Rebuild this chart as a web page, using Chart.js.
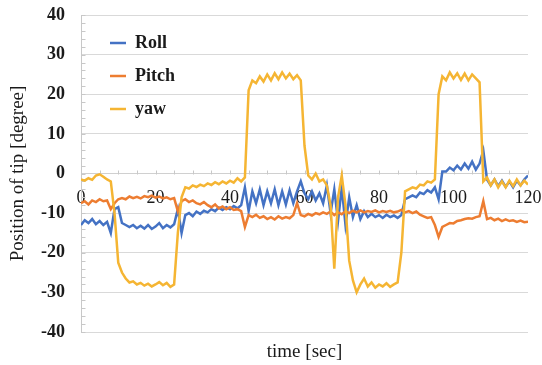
<!DOCTYPE html>
<html>
<head>
<meta charset="utf-8">
<script src="https://cdn.jsdelivr.net/npm/chart.js@4.4.1/dist/chart.umd.min.js"></script>
<style>
  html, body { margin: 0; padding: 0; background: #fff; }
  #wrap { width: 542px; height: 365px; }
</style>
</head>
<body>
<div id="wrap"><canvas id="tipChart" width="542" height="365"></canvas></div>
<script>
// time stamps [sec]
const times = [
    0, 1, 2, 3, 4, 5, 6, 7, 8, 9, 10, 11, 12, 13, 14, 15, 16, 17, 18, 19,
    20, 21, 22, 23, 24, 25, 26, 27, 28, 29, 30, 31, 32, 33, 34, 35, 36, 37, 38, 39,
    40, 41, 42, 43, 44, 45, 46, 47, 48, 49, 50, 51, 52, 53, 54, 55, 56, 57, 58, 59,
    60, 61, 62, 63, 64, 65, 66, 67, 68, 69, 70, 71, 72, 73, 74, 75, 76, 77, 78, 79,
    80, 81, 82, 83, 84, 85, 86, 87, 88, 89, 90, 91, 92, 93, 94, 95, 96, 97, 98, 99,
    100, 101, 102, 103, 104, 105, 106, 107, 108, 109, 110, 111, 112, 113, 114, 115, 116, 117, 118, 119,
    120
];

const roll = [
    -13, -11.8, -12.5, -11.5, -12.8, -12, -13, -12.2, -15, -9, -8.5, -12.5, -13, -13.5, -13, -13.8, -13.2, -13.9, -13, -14,
    -13.4, -12.5, -13.8, -13, -13.6, -12.8, -9, -15, -10.5, -10, -10.8, -9.6, -10.2, -9.4, -9.8, -9, -9.5, -8.6, -9.2, -8.5,
    -9, -8.2, -8.8, -8, -3.5, -9.5, -4.5, -7.5, -4, -8, -4.5, -7.5, -4, -8, -4.5, -7.8, -4.2, -7.5, -4.5, -2,
    -5, -6.5, -4.5, -6.8, -5, -7.5, -3, -10, -4, -12, -3.5, -13, -6, -11, -8, -11.5, -9.5, -11, -10.2, -11,
    -10.5, -11.2, -10.4, -11, -10.6, -11.2, -10.5, -6.5, -6, -5.5, -6, -4.8, -5.2, -4.2, -4.8, -3.5, -6.5, 0.5, 0.5, 1.5,
    0.8, 2, 1, 2.5, 1.2, 3, 1, 2.5, 5.8, -1.5, -3, -1.5, -3.2, -1.8, -3.4, -2, -3.5, -1.8, -3, -1.5,
    -0.5
];

const pitch = [
    -7.5, -7, -7.8, -6.8, -7.2, -6.5, -7, -6.8, -9, -7.5, -6.5, -6.2, -6.5, -5.8, -6.2, -5.9, -6.3, -5.7, -6, -5.6,
    -6.1, -5.8, -6.3, -6, -6.5, -6.2, -9.5, -7, -6.5, -7.2, -6.8, -7.5, -7.8, -7.2, -8, -8.5, -7.8, -8.8, -8.3, -9,
    -8.5, -9.2, -9, -9.5, -13.5, -10.5, -11, -10.4, -11.2, -10.8, -11.5, -11, -11.6, -10.8, -11.4, -11, -11.3, -10.5, -7.5, -10.5,
    -10.8, -10.2, -10.6, -10, -10.3, -9.8, -10.2, -9.6, -10.5, -9.8, -10.3, -9.5, -10, -9.4, -9.8, -9.3, -9.8, -9.5, -9.7, -9.3,
    -9.8, -9.5, -9.7, -9.4, -9.8, -9.6, -9.2, -9.8, -9.5, -10, -9.6, -10.4, -10.8, -11.2, -11, -13, -16, -13.5, -13, -12.5,
    -12.6, -12, -11.8, -11.5, -11.3, -11.4, -11, -10.8, -7, -11.5, -11.2, -11.8, -11.4, -12, -11.6, -12, -11.8, -12.2, -11.9, -12.3,
    -12.2
];

const yaw = [
    -1.5, -1.8, -1.2, -1.6, -0.5, -0.2, -0.8, -1.5, -2, -10, -22.5, -25, -26.5, -27.5, -27.2, -28, -27.6, -28.3, -27.8, -28.5,
    -28, -27.4, -28.2, -27.6, -28.6, -28, -15, -6, -3.5, -3.8, -3, -3.4, -2.8, -3.2, -2.5, -2.9, -2.2, -2.7, -2, -2.5,
    -1.8, -2.3, -1.2, -2, -1, 21, 23.5, 22.8, 24.5, 23.2, 25, 23.5, 25.3, 23.8, 25.5, 24, 25.2, 23.8, 24.8, 23.5,
    7, -0.5, -1.5, 0, -2, -1.5, -3, -8, -24, -6, -0.5, -8, -22, -27, -30, -28, -26.5, -28.5, -27.5, -28.8,
    -28, -28.5, -27.7, -28.6, -28, -27.5, -20, -4.5, -4, -3.5, -3.8, -2.8, -3, -2, -2.3, -1.5, 20, 24.5, 23.5, 25.5,
    24, 25.3, 23.6, 25.2, 23.5, 25, 24, 23, -2, -1, -3, -1.5, -3.5, -2, -3.5, -1.8, -3.2, -1.5, -3, -1.8,
    -2.8
];

const seriesNames = ["Roll", "Pitch", "yaw"];
const seriesColors = ["#4472C4", "#ED7D31", "#F5B533"];
const xTicks = [0, 20, 40, 60, 80, 100, 120];
const yTicks = [-40, -30, -20, -10, 0, 10, 20, 30, 40];

const serif = "'Liberation Serif', 'Times New Roman', serif";

function toPoints(values) {
    return values.map((v, i) => ({ x: times[i], y: v }));
}

// small inner tick marks on the axes (every 5 sec and every 2 degrees)
const minorTicks = {
    id: "minorTicks",
    beforeDatasetsDraw(chart) {
        const { ctx, scales: { x, y } } = chart;
        ctx.save();
        ctx.strokeStyle = "#c8c8c8";
        ctx.lineWidth = 1;
        ctx.beginPath();
        const y0 = Math.round(y.getPixelForValue(0)) + 0.5;
        for (let t = xTicks[0]; t <= xTicks[xTicks.length - 1]; t += 5) {
            const px = Math.round(x.getPixelForValue(t)) + 0.5;
            ctx.moveTo(px, y0);
            ctx.lineTo(px, y0 - 4);
        }
        const x0 = Math.round(x.getPixelForValue(0)) + 0.5;
        for (let v = yTicks[0]; v <= yTicks[yTicks.length - 1]; v += 2) {
            const py = Math.round(y.getPixelForValue(v)) + 0.5;
            ctx.moveTo(x0, py);
            ctx.lineTo(x0 + 4, py);
        }
        ctx.stroke();
        ctx.restore();
    }
};

// put the legend box in the upper left part of the plot
const legendSpot = {
    id: "legendSpot",
    afterLayout(chart) {
        const lg = chart.legend;
        const area = chart.chartArea;
        lg.left = area.left + 14;
        lg.top = area.top + 4;
        lg.bottom = area.bottom;
        lg.right = lg.left + lg.width;
    }
};

document.addEventListener("DOMContentLoaded", function () {
    const ctx = document.getElementById("tipChart").getContext("2d");
    const sets = [roll, pitch, yaw];

    new Chart(ctx, {
        type: "line",
        data: {
            datasets: sets.map((vals, i) => ({
                label: seriesNames[i],
                data: toPoints(vals),
                borderColor: seriesColors[i],
                backgroundColor: seriesColors[i],
                borderWidth: 2.5,
                pointRadius: 0,
                tension: 0,
                order: sets.length - 1 - i
            }))
        },
        options: {
            responsive: false,
            animation: false,
            layout: { padding: { top: 15, right: 14, bottom: 0, left: 0 } },
            plugins: {
                tooltip: { enabled: false },
                legend: {
                    position: "chartArea",
                    align: "start",
                    labels: {
                        usePointStyle: true,
                        pointStyle: "line",
                        pointStyleWidth: 16,
                        padding: 15,
                        color: "#1a1a1a",
                        font: { family: serif, size: 18, weight: "bold" },
                        sort: (a, b) => a.datasetIndex - b.datasetIndex
                    }
                }
            },
            scales: {
                // axis that crosses at y = 0, carries the numbers
                x: {
                    type: "linear",
                    position: { y: 0 },
                    min: xTicks[0],
                    max: xTicks[xTicks.length - 1],
                    afterFit: s => { s.height = 0; s.paddingLeft = 0; s.paddingRight = 0; },
                    ticks: {
                        stepSize: 20,
                        padding: 6,
                        maxRotation: 0,
                        color: "#1a1a1a",
                        font: { family: serif, size: 18 }
                    },
                    grid: { display: false },
                    border: { display: true, color: "#d0d0d0", width: 1 }
                },
                // bottom axis only for the title
                xTitle: {
                    type: "linear",
                    position: "bottom",
                    min: xTicks[0],
                    max: xTicks[xTicks.length - 1],
                    afterFit: s => { s.height = 33; s.paddingLeft = 0; s.paddingRight = 0; },
                    ticks: { display: false },
                    grid: { display: false },
                    border: { display: false },
                    title: {
                        display: true,
                        text: "time [sec]",
                        color: "#1a1a1a",
                        font: { family: serif, size: 19 },
                        padding: { top: 0, bottom: 2 }
                    }
                },
                y: {
                    min: yTicks[0],
                    max: yTicks[yTicks.length - 1],
                    afterFit: s => { s.width = 81; s.paddingTop = 0; s.paddingBottom = 0; },
                    ticks: {
                        stepSize: 10,
                        padding: 16,
                        color: "#1a1a1a",
                        font: { family: serif, size: 18, weight: "bold" }
                    },
                    grid: { color: "#d9d9d9", lineWidth: 1, drawTicks: false },
                    border: { display: true, color: "#c8c8c8", width: 1 },
                    title: {
                        display: true,
                        text: "Position of tip [degree]",
                        color: "#1a1a1a",
                        font: { family: serif, size: 19 },
                        padding: { top: 7, bottom: 0 }
                    }
                }
            }
        },
        plugins: [minorTicks, legendSpot]
    });
});
</script>
</body>
</html>
